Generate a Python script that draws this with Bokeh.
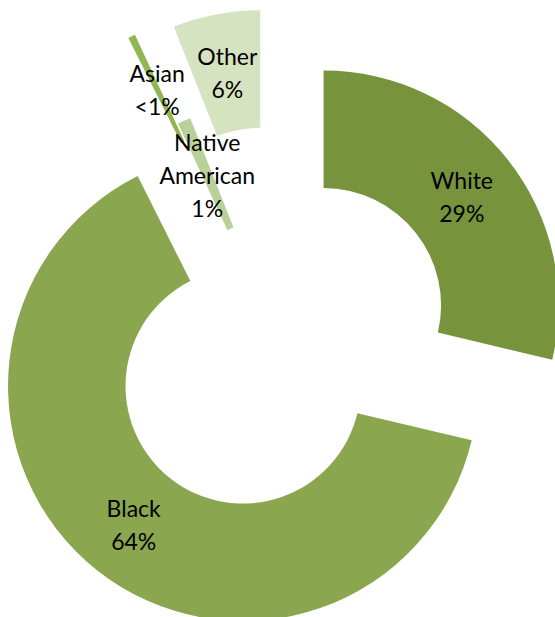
import numpy as np
from bokeh.plotting import figure
from bokeh.models import ColumnDataSource, Range1d
from bokeh.embed import file_html
from bokeh.resources import INLINE
from bokeh.core.properties import value

# ---- data ----
categories = ["White", "Black", "Asian", "Native American", "Other"]
shares = [28.7, 63.9, 0.5, 0.9, 6.0]          # percent
labels = ["White\n29%", "Black\n64%", "Asian\n<1%", "Native\nAmerican\n1%", "Other\n6%"]
explode = [0.244, 0.244, 0.44, 0.02, 0.415]   # fraction of outer radius
colors = ["#77933C", "#8AA64F", "#93B655", "#B9D098", "#D6E3C0"]

R_OUT = 1.0
R_IN = 0.5

# angles measured clockwise from 12 o'clock (Excel style)
fr = np.array(shares) / sum(shares)
cum = np.concatenate([[0], np.cumsum(fr)]) * 360.0
th0 = cum[:-1]
th1 = cum[1:]
mid = np.radians((th0 + th1) / 2)
ex = np.array(explode)
cx = ex * np.sin(mid)
cy = ex * np.cos(mid)

src = ColumnDataSource(dict(
    x=cx, y=cy,
    start=np.radians(90 - th1), end=np.radians(90 - th0),
    color=colors,
))

lab_r = 0.75
lx = cx + lab_r * np.sin(mid)
ly = cy + lab_r * np.cos(mid)
lab_src = ColumnDataSource(dict(x=lx, y=ly, text=labels))

# pixel scale: 235 px per unit radius, centre at (278, 341) px
W, H = 555, 617
scale = 235.0
ox, oy = 278.1, 340.6
p = figure(width=W, height=H, output_backend="svg", toolbar_location=None,
           x_range=Range1d(-ox / scale, (W - ox) / scale),
           y_range=Range1d((oy - H) / scale, oy / scale),
           min_border=0, outline_line_color=None)
p.axis.visible = False
p.grid.visible = False
p.background_fill_color = "white"
p.border_fill_color = "white"

p.annular_wedge(x="x", y="y", inner_radius=R_IN, outer_radius=R_OUT,
                start_angle="start", end_angle="end", direction="anticlock",
                fill_color="color", line_color=None, source=src)

p.text(x="x", y="y", text="text", source=lab_src,
       text_font=value("Lato"), text_font_size="23px", text_color="black",
       text_align="center", text_baseline="middle", text_line_height=1.18)

open("out.html", "w").write(file_html(p, INLINE))
